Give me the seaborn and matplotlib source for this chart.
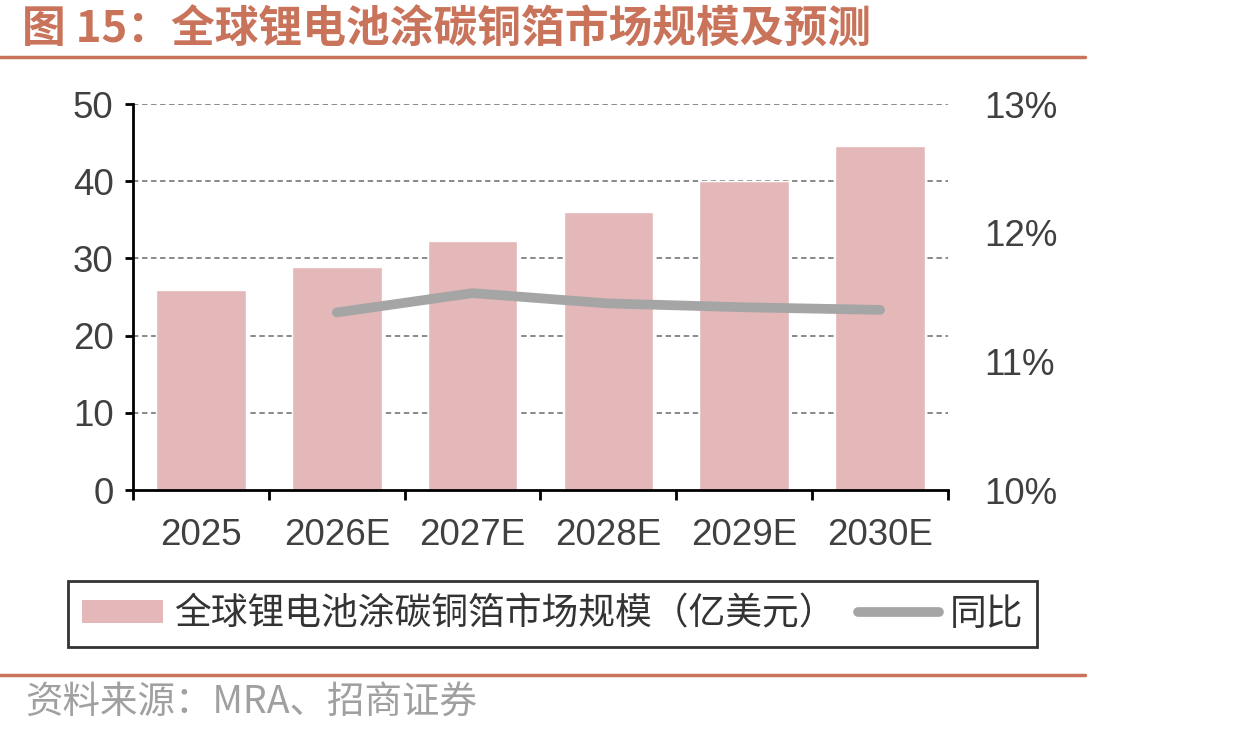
import matplotlib
matplotlib.use("Agg")
import matplotlib.pyplot as plt
import seaborn as sns
import numpy as np
import pandas as pd
from matplotlib.lines import Line2D
from matplotlib.patches import Patch

categories = ["2025", "2026E", "2027E", "2028E", "2029E", "2030E"]
market_size = [25.9, 28.9, 32.3, 36.0, 40.0, 44.6]
yoy_years = ["2026E", "2027E", "2028E", "2029E", "2030E"]
yoy_pct = [11.38, 11.53, 11.45, 11.42, 11.40]
left_ticks = [0, 10, 20, 30, 40, 50]
right_ticks = [10, 11, 12, 13]
right_tick_labels = ["10%", "11%", "12%", "13%"]

title = "图 15：全球锂电池涂碳铜箔市场规模及预测"
bar_label = "全球锂电池涂碳铜箔市场规模（亿美元）"
line_label = "同比"
source = "资料来源：MRA、招商证券"

sns.set_theme(style="white")
plt.rcParams['font.family'] = ['Liberation Sans', 'Noto Sans CJK SC', 'DejaVu Sans']
cjk = ['Noto Sans CJK SC', 'DejaVu Sans']

accent = "#C8735A"
bar_color = "#E4B8B8"
line_color = "#A5A5A5"
tick_color = "#404040"

fig = plt.figure(figsize=(12.4, 7.36), dpi=100)
ax = fig.add_axes([133/1240, 1-490/736, (948-133)/1240, (490-104)/736])

df = pd.DataFrame({"year": categories, "size": market_size})
sns.barplot(data=df, x="year", y="size", color=bar_color, width=0.66,
            saturation=1, ax=ax, zorder=2)
ax.set_xlim(-0.5, len(categories) - 0.5)
ax.set_ylim(0, 50)
ax.set_yticks(left_ticks)
ax.set_xlabel("")
ax.set_ylabel("")
for y in left_ticks[1:]:
    ax.axhline(y, color="#808080", lw=1.3, ls=(0, (3, 2)), zorder=1)

for s in ["top", "right"]:
    ax.spines[s].set_visible(False)
for s in ["left", "bottom"]:
    ax.spines[s].set_color("black")
    ax.spines[s].set_linewidth(2)

ax.tick_params(axis="y", which="major", direction="out", length=6, width=2,
               color="black", labelsize=26.5, labelcolor=tick_color, pad=8, left=True)
ax.set_xticks(range(len(categories)))
ax.set_xticklabels(categories)
ax.tick_params(axis="x", which="major", length=0, labelsize=26.5,
               labelcolor=tick_color, pad=20)
ax.set_xticks(np.arange(-0.5, len(categories)), minor=True)
ax.tick_params(axis="x", which="minor", direction="out", length=7, width=2,
               color="black", bottom=True)

ax2 = ax.twinx()
line_x = [categories.index(c) for c in yoy_years]
sns.lineplot(x=line_x, y=yoy_pct, ax=ax2, color=line_color, lw=7,
             solid_capstyle="round", solid_joinstyle="round", zorder=3)
ax2.set_ylim(10, 13)
ax2.set_yticks(right_ticks)
ax2.set_yticklabels(right_tick_labels)
ax2.tick_params(axis="y", length=0, labelsize=26.5, labelcolor=tick_color, pad=26)
for s in ["top", "right", "left", "bottom"]:
    ax2.spines[s].set_visible(False)
ax2.set_xlim(-0.5, len(categories) - 0.5)

# Title and decorations
fig.text(22/1240, 1-30/736, title, fontsize=31.5, fontweight="bold",
         color=accent, va="center", ha="left", family=cjk)
fig.add_artist(Line2D([0, 1085/1240], [1-57/736, 1-57/736], color=accent, lw=2.5))
fig.add_artist(Line2D([0, 1085/1240], [1-675/736, 1-675/736], color=accent, lw=2.5))
fig.text(25/1240, 1-703/736, source, fontsize=27, color="#A0A0A0",
         va="center", ha="left", family=cjk)

handles = [Patch(facecolor=bar_color, edgecolor="none"),
           Line2D([0], [0], color=line_color, lw=7, solid_capstyle="round")]
leg = fig.legend(handles, [bar_label, line_label], loc="center",
                 bbox_to_anchor=((75+1030)/2/1240, 1-614/736), ncol=2,
                 frameon=True, prop={'family': cjk, 'size': 26.5},
                 handlelength=2.2, handleheight=0.6,
                 handletextpad=0.3, columnspacing=0.6, borderpad=0.38,
                 borderaxespad=0, fancybox=False)
leg.get_frame().set_edgecolor("black")
leg.get_frame().set_linewidth(2)
for t in leg.get_texts():
    t.set_color("#333333")

fig.savefig("out.png", dpi=100)
